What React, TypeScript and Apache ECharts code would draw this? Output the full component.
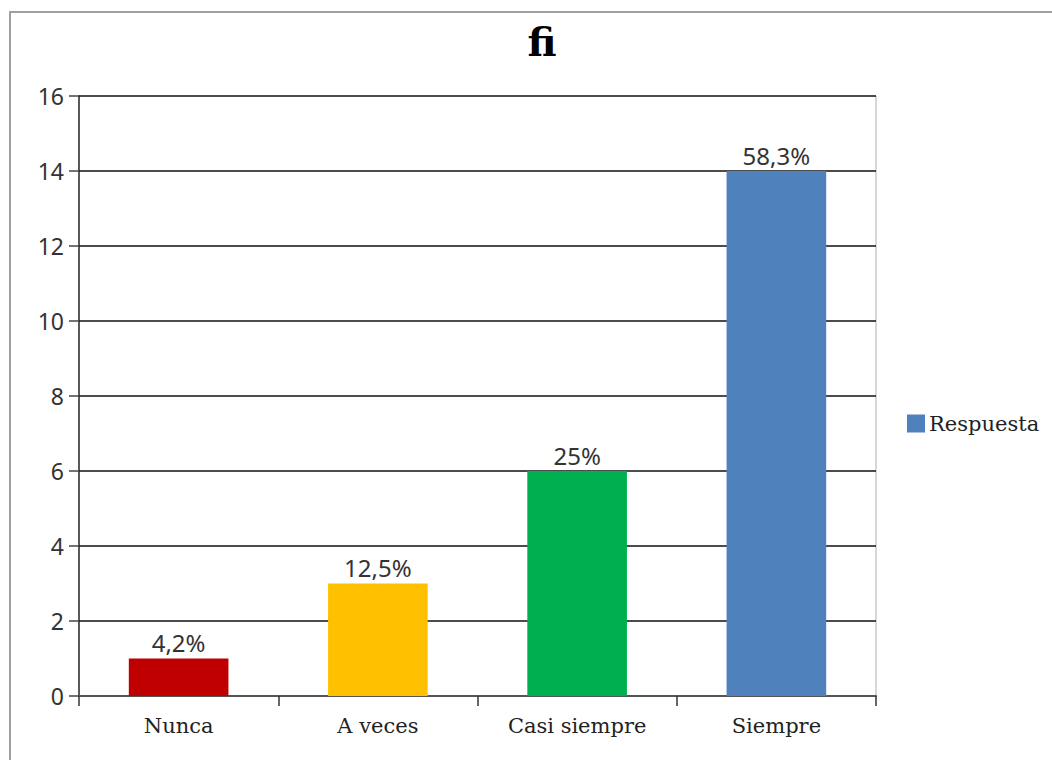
import React, { useEffect, useRef } from "react";
import * as echarts from "echarts";

const categories = ["Nunca", "A veces", "Casi siempre", "Siempre"];
const values = [1, 3, 6, 14];
const percentLabels = ["4,2%", "12,5%", "25%", "58,3%"];
const barColors = ["#C00000", "#FFC000", "#00B050", "#4F81BD"];
const seriesName = "Respuesta";
const titleText = "fi";

export default function App() {
  const ref = useRef<HTMLDivElement>(null);
  useEffect(() => {
    document.body.style.margin = "0";
    const chart = echarts.init(ref.current!, null, { renderer: "svg" });
    chart.setOption({
      animation: false,
      backgroundColor: "#ffffff",
      title: {
        text: titleText,
        left: 537,
        top: 16,
        textAlign: "center",
        textStyle: { fontFamily: "DejaVu Serif", fontWeight: "bold", fontSize: 40, color: "#000" },
      },
      legend: {
        data: [seriesName],
        left: 902,
        top: 408,
        itemWidth: 18,
        itemHeight: 18,
        itemGap: 6,
        icon: "rect",
        textStyle: { fontFamily: "DejaVu Serif", fontSize: 21, color: "#222", padding: [0, 0, 0, -1] },
      },
      grid: { left: 79, right: 176, top: 96, bottom: 64 },
      xAxis: {
        type: "category",
        data: categories,
        axisLine: { lineStyle: { color: "#555", width: 2 } },
        axisTick: { show: true, alignWithLabel: false, length: 10, lineStyle: { color: "#333", width: 1.5 } },
        axisLabel: { margin: 19, fontFamily: "DejaVu Serif", fontSize: 21, color: "#222" },
      },
      yAxis: {
        type: "value",
        min: 0,
        max: 16,
        interval: 2,
        axisLine: { show: true, lineStyle: { color: "#222", width: 1.5 } },
        axisTick: { show: true, length: 10, lineStyle: { color: "#444", width: 1.5 } },
        axisLabel: { margin: 15, fontFamily: "Noto Sans", fontSize: 23, color: "#333" },
        splitLine: { show: true, lineStyle: { color: "#111", width: 1.5 } },
      },
      graphic: [
        {
          type: "rect",
          shape: { x: 10, y: 12, width: 1100, height: 800 },
          style: { fill: "none", stroke: "#a0a0a0", lineWidth: 2 },
          silent: true,
        },
        {
          type: "line",
          shape: { x1: 876, y1: 96, x2: 876, y2: 696 },
          style: { stroke: "#c8c8c8", lineWidth: 1.5 },
          silent: true,
        },
      ],
      series: [
        {
          name: seriesName,
          type: "bar",
          barWidth: "50%",
          itemStyle: { color: barColors[3] },
          data: values.map((v, i) => ({ value: v, itemStyle: { color: barColors[i] } })),
          label: {
            show: true,
            position: "top",
            distance: 4,
            fontFamily: "Noto Sans",
            fontSize: 24,
            color: "#333",
            formatter: (p: any) => percentLabels[p.dataIndex],
          },
        },
      ],
    });
    return () => chart.dispose();
  }, []);
  return <div ref={ref} style={{ width: 1052, height: 760 }} />;
}
